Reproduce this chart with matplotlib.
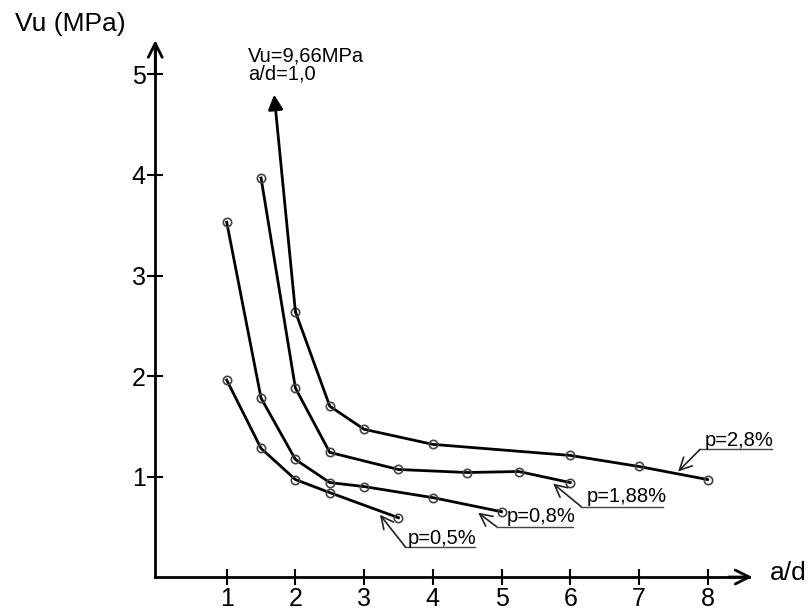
import matplotlib.pyplot as plt

plt.rcParams["font.family"] = ["Liberation Sans", "DejaVu Sans"]

# a/d vs Vu (MPa) for each reinforcement ratio
ad_05 = [1.0, 1.5, 2.0, 2.5, 3.5]
vu_05 = [1.96, 1.28, 0.97, 0.84, 0.59]

ad_08 = [1.0, 1.5, 2.0, 2.5, 3.0, 4.0, 5.0]
vu_08 = [3.53, 1.78, 1.17, 0.94, 0.90, 0.79, 0.65]

ad_188 = [1.5, 2.0, 2.5, 3.5, 4.5, 5.25, 6.0]
vu_188 = [3.97, 1.88, 1.24, 1.07, 1.04, 1.05, 0.94]

ad_28 = [2.0, 2.5, 3.0, 4.0, 6.0, 7.0, 8.0]
vu_28 = [2.64, 1.70, 1.47, 1.32, 1.21, 1.10, 0.97]

# off-scale first point of p=2,8% (Vu=9,66MPa at a/d=1,0), drawn as an arrow
off_tip = (1.69, 4.8)

series = [(ad_05, vu_05), (ad_08, vu_08), (ad_188, vu_188), (ad_28, vu_28)]

# label text, text anchor, underline (x0, x1, y), arrow tip
labels = ["p=0,5%", "p=0,8%", "p=1,88%", "p=2,8%"]
label_pos = [(3.63, 0.33), (5.08, 0.55), (6.24, 0.75), (7.96, 1.30)]
underline = [(3.60, 4.61, 0.30), (4.93, 6.04, 0.50), (6.16, 7.35, 0.70), (7.89, 8.94, 1.27)]
arrow_tip = [(3.23, 0.62), (4.66, 0.64), (5.75, 0.93), (7.57, 1.05)]

x_ticks = [1, 2, 3, 4, 5, 6, 7, 8]
y_ticks = [1, 2, 3, 4, 5]

fig = plt.figure(figsize=(8.11, 6.08), dpi=100)
ax = fig.add_axes([0, 0, 1, 1])
ax.set_xlim(-2.30, 9.505)
ax.set_ylim(-0.308, 5.741)

for x, y in series:
    ax.plot(x, y, color="black", lw=2, marker="o", ms=6, mfc="none",
            mec="#444444", mew=1.2, zorder=3)

# arrow to the off-scale value
ax.annotate("", xy=off_tip, xytext=(ad_28[0], vu_28[0]),
            arrowprops=dict(arrowstyle="-|>", color="black", lw=2,
                            mutation_scale=22, shrinkA=0, shrinkB=0))
ax.text(1.31, 5.28, "Vu=9,66MPa\na/d=1,0", fontsize=14.5, ha="left", va="top",
        linespacing=0.92)

for lab, (tx, ty), (u0, u1, uy), tip in zip(labels, label_pos, underline, arrow_tip):
    ax.plot([u0, u1], [uy, uy], color="#444444", lw=1)
    ax.annotate("", xy=tip, xytext=(u0, uy),
                arrowprops=dict(arrowstyle="->", color="#222222", lw=1.2,
                                mutation_scale=22, shrinkA=0, shrinkB=0))
    ax.text(tx, ty, lab, fontsize=14.5, ha="left", va="baseline")

# axes with arrow heads
for side in ["top", "right"]:
    ax.spines[side].set_visible(False)
ax.spines["left"].set_position(("data", -0.04))
ax.spines["bottom"].set_position(("data", 0))
ax.spines["left"].set_bounds(0, 5.3)
ax.spines["bottom"].set_bounds(-0.04, 8.6)
ax.spines["left"].set_linewidth(2)
ax.spines["bottom"].set_linewidth(2)
ax.annotate("", xy=(-0.04, 5.34), xytext=(-0.04, 5.0),
            arrowprops=dict(arrowstyle="->", color="black", lw=2,
                            mutation_scale=25, shrinkA=0, shrinkB=0))
ax.annotate("", xy=(8.65, 0), xytext=(8.3, 0),
            arrowprops=dict(arrowstyle="->", color="black", lw=2,
                            mutation_scale=25, shrinkA=0, shrinkB=0))

ax.set_xticks(x_ticks)
ax.set_yticks(y_ticks)
ax.tick_params(direction="inout", length=12, width=1.5, labelsize=18, pad=1)

ax.text(-2.08, 5.50, "Vu (MPa)", fontsize=19, ha="left", va="center")
ax.text(8.91, 0.04, "a/d", fontsize=19, ha="left", va="center")

fig.savefig("out.png", dpi=100)
